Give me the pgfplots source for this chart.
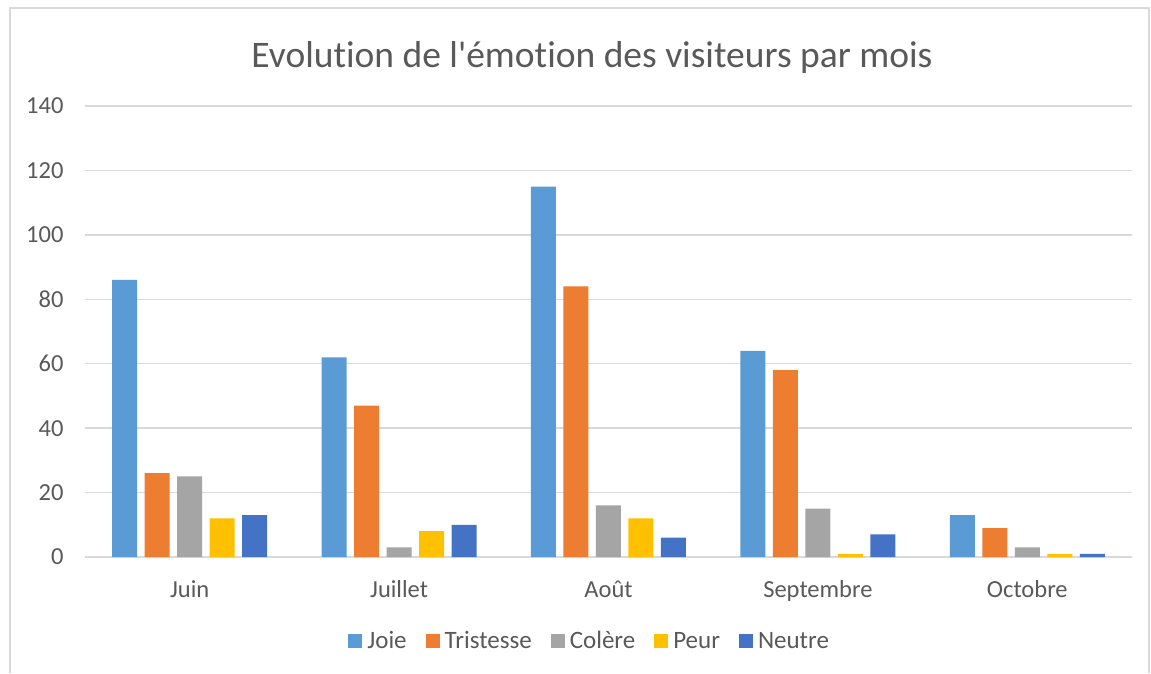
\documentclass[border=0pt]{standalone}
\usepackage{fontspec}
\setmainfont{Carlito}[Ligatures=NoCommon]
\newfontfamily\calfont{Carlito}[Ligatures=NoCommon]
\usepackage{pgfplots}
\pgfplotsset{compat=1.18}
\definecolor{cJoie}{HTML}{5B9BD5}
\definecolor{cTri}{HTML}{ED7D31}
\definecolor{cCol}{HTML}{A5A5A5}
\definecolor{cPeur}{HTML}{FFC000}
\definecolor{cNeu}{HTML}{4472C4}
\definecolor{gridc}{HTML}{D9D9D9}
\definecolor{txt}{HTML}{595959}
\begin{document}
\begin{tikzpicture}[x=1pt,y=1pt]
\path[use as bounding box,fill=white] (0,0) rectangle (1151,673);
\draw[gridc,line width=1.3pt] (10,0) -- (10,665) -- (1149,665) -- (1149,0);
\node[txt,font=\calfont\fontsize{37.5}{42}\selectfont] at (592,615) {Evolution de l'émotion des visiteurs par mois};
\begin{axis}[
  at={(85pt,116pt)}, anchor=south west,
  scale only axis, width=1047pt, height=451pt,
  ybar=7.5pt, bar width=25pt,
  xmin=-0.5, xmax=4.5, ymin=0, ymax=140,
  xtick={0,1,2,3,4},
  xticklabels={Juin,Juillet,Août,Septembre,Octobre},
  ytick={0,20,...,140},
  ymajorgrids, xmajorgrids=false, grid style={gridc,line width=1.3pt},
  axis line style={draw=none},
  major tick style={draw=none},
  tick label style={txt,font=\calfont\fontsize{24.5}{28}\selectfont},
  /pgf/number format/assume math mode=true,
  xticklabel style={yshift=-16pt},
  yticklabel style={xshift=-18pt},
  legend columns=-1,
  legend style={draw=none, fill=none, at={(axis description cs:0.482,-0.186)}, anchor=center,
    font=\calfont\fontsize{25}{29}\selectfont, text=txt,
    /tikz/every even column/.append style={column sep=17pt},
    /tikz/every odd column/.append style={column sep=3pt}},
  legend image code/.code={\fill[#1] (0pt,-7pt) rectangle (14pt,7pt);},
]
\addplot[fill=cJoie,draw=none] coordinates {(0,86) (1,62) (2,115) (3,64) (4,13)};
\addplot[fill=cTri,draw=none] coordinates {(0,26) (1,47) (2,84) (3,58) (4,9)};
\addplot[fill=cCol,draw=none] coordinates {(0,25) (1,3) (2,16) (3,15) (4,3)};
\addplot[fill=cPeur,draw=none] coordinates {(0,12) (1,8) (2,12) (3,1) (4,1)};
\addplot[fill=cNeu,draw=none] coordinates {(0,13) (1,10) (2,6) (3,7) (4,1)};
\legend{Joie,Tristesse,Colère,Peur,Neutre}
\end{axis}
\end{tikzpicture}
\end{document}
